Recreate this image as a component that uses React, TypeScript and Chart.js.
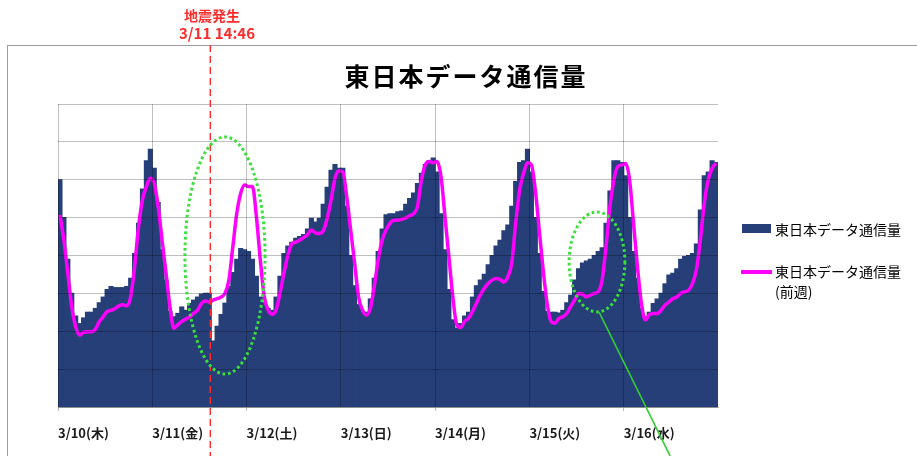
import React, { useEffect, useRef } from 'react';
import { Chart, registerables } from 'chart.js';

Chart.register(...registerables);

// ---------- data ----------
const DAY_LABELS = ['3/10(木)', '3/11(金)', '3/12(土)', '3/13(日)', '3/14(月)', '3/15(火)', '3/16(水)'];
const HOURS_PER_DAY = 24;

// hourly traffic (relative units), current week
const trafficThu = [6.0, 5.0, 3.9, 3.0, 2.4, 2.2, 2.35, 2.5, 2.5, 2.6, 2.75, 2.9, 3.1, 3.18, 3.15, 3.15, 3.15, 3.18, 3.4, 4.05, 4.85, 5.75, 6.5, 6.8];
const trafficFri = [6.3, 5.4, 4.15, 3.35, 2.52, 2.38, 2.47, 2.64, 2.55, 2.73, 2.82, 2.9, 2.98, 3.0, 3.0, 1.74, 2.13, 2.44, 2.74, 3.18, 3.55, 3.9, 4.18, 4.15];
const trafficSat = [4.1, 3.9, 3.45, 2.9, 2.75, 2.6, 2.55, 2.9, 3.45, 4.05, 4.25, 4.35, 4.45, 4.5, 4.55, 4.7, 4.98, 4.88, 4.98, 5.35, 5.8, 6.25, 6.4, 6.3];
const trafficSun = [6.3, 5.3, 4.0, 3.2, 2.7, 2.5, 2.5, 2.85, 3.4, 4.1, 4.7, 5.07, 5.1, 5.1, 5.15, 5.17, 5.35, 5.5, 5.65, 5.9, 6.17, 6.4, 6.5, 6.57];
const trafficMon = [6.2, 5.1, 4.15, 3.1, 2.3, 2.08, 2.2, 2.4, 2.5, 2.9, 3.2, 3.35, 3.5, 3.75, 4.0, 4.25, 4.4, 4.65, 4.8, 5.3, 5.95, 6.45, 6.5, 6.8];
const trafficTue = [6.2, 5.0, 4.05, 3.05, 2.52, 2.5, 2.5, 2.48, 2.55, 2.75, 2.95, 3.35, 3.65, 3.8, 3.85, 3.9, 4.0, 4.1, 4.2, 4.85, 5.7, 6.5, 6.5, 6.45];
const trafficWed = [6.1, 5.0, 4.1, 3.4, 2.6, 2.38, 2.5, 2.73, 2.85, 3.0, 3.25, 3.48, 3.53, 3.65, 3.9, 3.97, 4.0, 4.05, 4.3, 5.2, 6.1, 6.2, 6.5, 6.45];

// hourly traffic, previous week
const prevWeekThu = [5.07, 4.4, 3.53, 2.65, 2.12, 1.9, 1.97, 1.99, 1.99, 2.05, 2.25, 2.38, 2.52, 2.55, 2.6, 2.67, 2.7, 2.67, 2.91, 3.7, 4.76, 5.47, 5.82, 6.04];
const prevWeekFri = [5.9, 5.29, 4.4, 3.53, 2.65, 2.08, 2.17, 2.26, 2.32, 2.38, 2.47, 2.55, 2.73, 2.8, 2.77, 2.82, 2.86, 2.9, 3.0, 3.35, 4.23, 5.11, 5.64, 5.86];
const prevWeekSat = [5.82, 5.82, 5.03, 3.88, 2.91, 2.56, 2.45, 2.56, 3.0, 3.53, 4.0, 4.3, 4.35, 4.4, 4.47, 4.55, 4.67, 4.6, 4.58, 4.65, 4.97, 5.46, 6.03, 6.24];
const prevWeekSun = [6.21, 5.55, 4.67, 3.8, 2.91, 2.56, 2.43, 2.6, 3.18, 3.88, 4.4, 4.67, 4.85, 4.93, 4.93, 4.96, 4.99, 5.05, 5.1, 5.29, 5.99, 6.39, 6.48, 6.45];
const prevWeekMon = [6.48, 6.08, 5.03, 3.97, 2.91, 2.17, 2.1, 2.26, 2.34, 2.52, 2.74, 2.96, 3.13, 3.26, 3.35, 3.39, 3.37, 3.3, 3.44, 3.79, 4.85, 5.73, 6.17, 6.45];
const prevWeekTue = [6.39, 5.73, 4.67, 3.62, 2.74, 2.26, 2.21, 2.34, 2.38, 2.47, 2.65, 2.82, 3.0, 2.98, 2.91, 2.95, 3.0, 3.04, 3.35, 4.23, 5.29, 5.99, 6.35, 6.39];
const prevWeekWed = [6.43, 5.99, 4.85, 3.7, 2.74, 2.3, 2.43, 2.47, 2.47, 2.55, 2.69, 2.77, 2.86, 2.9, 3.0, 3.04, 3.08, 3.26, 3.62, 4.4, 5.37, 5.99, 6.3, 6.43];

const Y_MIN = 0;
const Y_MAX = 8;
const Y_STEP = 1;

const TITLE = '東日本データ通信量';
const SERIES_NAME = '東日本データ通信量';
const PREV_SERIES_NAME = '東日本データ通信量';
const PREV_SERIES_SUFFIX = '(前週)';
const QUAKE_LABEL = '地震発生';
const QUAKE_TIME_LABEL = '3/11 14:46';
const QUAKE_HOUR = 24 + 14 + 46 / 60; // hours from 3/10 00:00

// highlighted regions (hour position / value units)
const HIGHLIGHTS = [
  { hour: 42.5, value: 4.0, rHours: 10.2, rValue: 3.13 },
  { hour: 137.2, value: 3.83, rHours: 7.1, rValue: 1.32 },
];
const POINTER_END = { hour: 155.8, value: -1.29 };

// ---------- styling ----------
const FONT = '"Noto Sans CJK JP", "Noto Sans", sans-serif';
const BAR_COLOR = '#263F78';
const LINE_COLOR = '#FF00FF';
const GRID_COLOR = 'rgba(0,0,0,0.25)';
const RED = '#FF2B2B';
const GREEN_DOT = '#3AE03A';
const GREEN_LINE = '#33CC33';
const FRAME_TOP = 45;

const trafficCurrent = [trafficThu, trafficFri, trafficSat, trafficSun, trafficMon, trafficTue, trafficWed].flat();
const trafficPrev = [prevWeekThu, prevWeekFri, prevWeekSat, prevWeekSun, prevWeekMon, prevWeekTue, prevWeekWed].flat();
const categories = DAY_LABELS.flatMap((d) => Array.from({ length: HOURS_PER_DAY }, (_, h) => `${d} ${h}:00`));

const annotationPlugin = {
  id: 'quakeAnnotations',
  afterDraw(chart: any) {
    const { ctx } = chart;
    const x = chart.scales.x;
    const y = chart.scales.y;
    const px = (hour: number) => x.getPixelForValue(hour - 0.5);
    const py = (v: number) => y.getPixelForValue(v);
    ctx.save();
    // earthquake line
    const qx = px(QUAKE_HOUR);
    ctx.strokeStyle = RED;
    ctx.lineWidth = 1.4;
    ctx.setLineDash([7, 4]);
    ctx.beginPath();
    ctx.moveTo(qx, FRAME_TOP);
    ctx.lineTo(qx, chart.height);
    ctx.stroke();
    // dotted ellipses
    ctx.strokeStyle = GREEN_DOT;
    ctx.lineWidth = 3;
    ctx.setLineDash([2.7, 2.8]);
    for (const e of HIGHLIGHTS) {
      const cx = px(e.hour);
      const cy = py(e.value);
      const rx = Math.abs(px(e.hour + e.rHours) - cx);
      const ry = Math.abs(py(e.value + e.rValue) - cy);
      ctx.beginPath();
      ctx.ellipse(cx, cy, rx, ry, 0, 0, Math.PI * 2);
      ctx.stroke();
    }
    // pointer line from the second highlight
    const h2 = HIGHLIGHTS[1];
    ctx.setLineDash([]);
    ctx.strokeStyle = GREEN_LINE;
    ctx.lineWidth = 1.6;
    ctx.beginPath();
    ctx.moveTo(px(h2.hour + 0.5), py(h2.value - h2.rValue));
    ctx.lineTo(px(POINTER_END.hour), py(POINTER_END.value));
    ctx.stroke();
    ctx.restore();
  },
};

export default function App() {
  const canvasRef = useRef<HTMLCanvasElement>(null);

  useEffect(() => {
    const chart = new Chart(canvasRef.current as HTMLCanvasElement, {
      type: 'bar',
      data: {
        labels: categories,
        datasets: [
          {
            type: 'line',
            label: PREV_SERIES_NAME + PREV_SERIES_SUFFIX,
            data: trafficPrev,
            borderColor: LINE_COLOR,
            backgroundColor: LINE_COLOR,
            borderWidth: 3.5,
            pointRadius: 0,
            cubicInterpolationMode: 'monotone',
            order: 0,
          } as any,
          {
            type: 'bar',
            label: SERIES_NAME,
            data: trafficCurrent,
            backgroundColor: BAR_COLOR,
            borderWidth: 0,
            barPercentage: 1,
            categoryPercentage: 1,
            inflateAmount: 0.6,
            order: 1,
          } as any,
        ],
      },
      options: {
        responsive: false,
        animation: false,
        layout: { padding: { left: 58, right: 199, top: 104, bottom: 0 } },
        plugins: {
          legend: { display: false },
          title: { display: false },
          tooltip: { enabled: false },
        },
        scales: {
          x: {
            type: 'category',
            offset: true,
            grid: {
              offset: true,
              z: 1,
              color: (c: any) => (c.index % HOURS_PER_DAY === 0 ? GRID_COLOR : 'rgba(0,0,0,0)'),
              tickColor: (c: any) => (c.index % (HOURS_PER_DAY * 2) === 0 ? GRID_COLOR : 'rgba(0,0,0,0)'),
              tickLength: 4,
            },
            border: { display: true, color: GRID_COLOR, z: 1 },
            ticks: {
              autoSkip: false,
              maxRotation: 0,
              minRotation: 0,
              align: 'start',
              labelOffset: -2,
              padding: 14,
              color: '#1a1a1a',
              font: { family: FONT, size: 13, weight: 'bold' },
              callback: (_v: any, i: number) => (i % HOURS_PER_DAY === 0 ? DAY_LABELS[i / HOURS_PER_DAY] : ''),
            },
            afterFit: (s: any) => {
              s.height = 49;
            },
          } as any,
          y: {
            min: Y_MIN,
            max: Y_MAX,
            ticks: { display: false, stepSize: Y_STEP },
            grid: { color: GRID_COLOR, drawTicks: false, z: 1 },
            border: { display: false },
            afterFit: (s: any) => {
              s.width = 0;
            },
          } as any,
        },
      },
      plugins: [annotationPlugin],
    });
    return () => chart.destroy();
  }, []);

  const textBase: React.CSSProperties = { position: 'absolute', fontFamily: FONT, whiteSpace: 'nowrap' };

  return (
    <div style={{ position: 'fixed', left: 0, top: 0, width: 917, height: 456, overflow: 'hidden', background: '#fff' }}>
      <div style={{ position: 'absolute', left: 7, top: FRAME_TOP, width: 1200, height: 1200, border: '1px solid #9c9c9c' }} />
      <canvas ref={canvasRef} width={917} height={456} style={{ position: 'absolute', left: 0, top: 0, width: 917, height: 456 }} />
      <div style={{ ...textBase, left: 0, width: 932, top: 58, textAlign: 'center', fontSize: 25, fontWeight: 'bold', lineHeight: '34px', letterSpacing: 2, color: '#000' }}>
        {TITLE}
      </div>
      <div style={{ ...textBase, left: 112, width: 200, top: 6, textAlign: 'center', fontSize: 14, fontWeight: 'bold', lineHeight: '18px', color: RED }}>
        {QUAKE_LABEL}
      </div>
      <div style={{ ...textBase, left: 117, width: 200, top: 24, textAlign: 'center', fontSize: 15, fontWeight: 'bold', lineHeight: '18px', color: RED }}>
        {QUAKE_TIME_LABEL}
      </div>
      <div style={{ position: 'absolute', left: 742, top: 224, width: 29, height: 9, background: BAR_COLOR }} />
      <div style={{ ...textBase, left: 775, top: 219, fontSize: 14, lineHeight: '20px', color: '#000' }}>{SERIES_NAME}</div>
      <div style={{ position: 'absolute', left: 741, top: 270, width: 31, height: 4, background: LINE_COLOR }} />
      <div style={{ ...textBase, left: 775, top: 261, fontSize: 14, lineHeight: '20px', color: '#000' }}>
        {PREV_SERIES_NAME}
        <br />
        {PREV_SERIES_SUFFIX}
      </div>
    </div>
  );
}
